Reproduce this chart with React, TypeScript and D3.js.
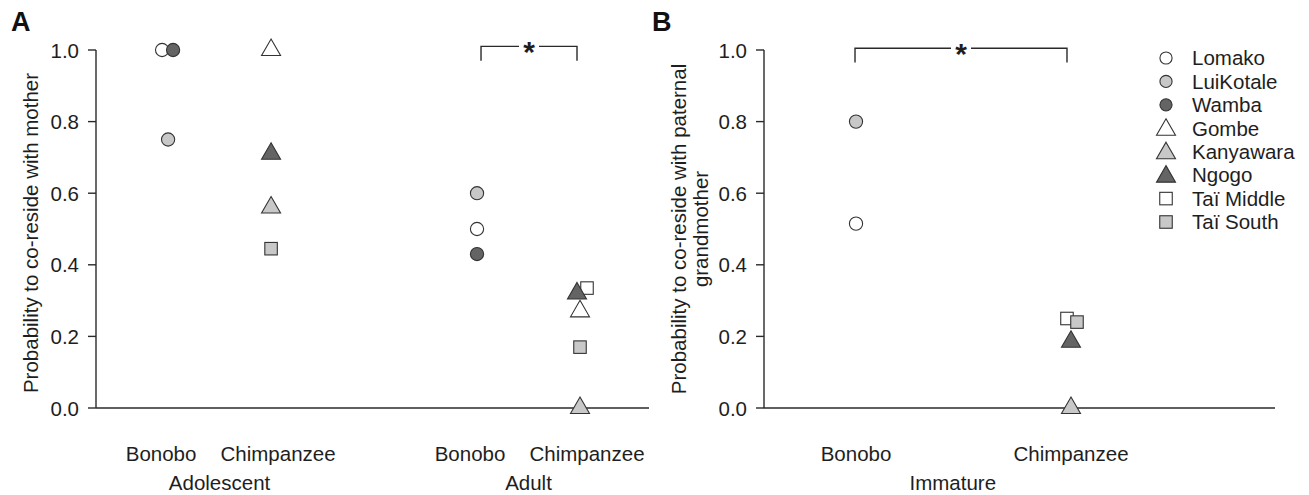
import React from "react";
import * as d3 from "d3";

// ---------- data ----------
const populations = ["Lomako", "LuiKotale", "Wamba", "Gombe", "Kanyawara", "Ngogo", "Taï Middle", "Taï South"];
const popShapes = ["circle", "circle", "circle", "triangle", "triangle", "triangle", "square", "square"];
const popFills = ["#ffffff", "#c8c8c8", "#646464", "#ffffff", "#c8c8c8", "#646464", "#ffffff", "#c8c8c8"];

const yTicks = [0, 0.2, 0.4, 0.6, 0.8, 1.0];

// Panel A: probability to co-reside with mother
const adolescentBonobo = [
  { pop: "Lomako", value: 1.0 },
  { pop: "LuiKotale", value: 0.75 },
  { pop: "Wamba", value: 1.0 },
];
const adolescentChimp = [
  { pop: "Gombe", value: 1.0 },
  { pop: "Kanyawara", value: 0.56 },
  { pop: "Ngogo", value: 0.71 },
  { pop: "Taï South", value: 0.445 },
];
const adultBonobo = [
  { pop: "Lomako", value: 0.5 },
  { pop: "LuiKotale", value: 0.6 },
  { pop: "Wamba", value: 0.43 },
];
const adultChimp = [
  { pop: "Taï Middle", value: 0.335 },
  { pop: "Taï South", value: 0.17 },
  { pop: "Gombe", value: 0.27 },
  { pop: "Kanyawara", value: 0.0 },
  { pop: "Ngogo", value: 0.32 },
];

// Panel B: probability to co-reside with paternal grandmother
const immatureBonobo = [
  { pop: "Lomako", value: 0.515 },
  { pop: "LuiKotale", value: 0.8 },
];
const immatureChimp = [
  { pop: "Kanyawara", value: 0.0 },
  { pop: "Ngogo", value: 0.185 },
  { pop: "Taï Middle", value: 0.25 },
  { pop: "Taï South", value: 0.24 },
];

const speciesLabels = ["Bonobo", "Chimpanzee"];
const ageLabelsA = ["Adolescent", "Adult"];
const ageLabelB = "Immature";

// small horizontal jitter (px) to separate overlapping markers
const jitter: Record<string, number> = {
  "adol-Lomako": -6,
  "adol-Wamba": 5,
  "adult-Taï Middle": 7,
  "adult-Ngogo": -3,
  "imm-Taï Middle": -4,
  "imm-Taï South": 6,
};

// ---------- styles ----------
const FONT = "'Liberation Sans', Arial, Helvetica, sans-serif";
const FS = 20.5;
const TXT = "#1e1e1e";
const AX = "#2a2a2a";
const MSTROKE = "#333333";

const Y0 = 408;
const Y1 = 50;

function Marker({ pop, x, y, scale = 1 }: { pop: string; x: number; y: number; scale?: number }) {
  const i = populations.indexOf(pop);
  const shape = popShapes[i];
  const fill = popFills[i];
  const common = { fill, stroke: MSTROKE, strokeWidth: 1.1 };
  if (shape === "circle") {
    return <circle cx={x} cy={y} r={6.6 * scale} {...common} />;
  }
  if (shape === "square") {
    const s = 12.5 * scale;
    return <rect x={x - s / 2} y={y - s / 2} width={s} height={s} {...common} />;
  }
  const w = 19 * scale;
  const h = 16.5 * scale;
  const pts = [
    [x, y - (2 * h) / 3],
    [x + w / 2, y + h / 3],
    [x - w / 2, y + h / 3],
  ];
  return <polygon points={pts.map((p) => p.join(",")).join(" ")} {...common} />;
}

function YAxis({ x, y }: { x: number; y: d3.ScaleLinear<number, number> }) {
  const fmt = d3.format(".1f");
  return (
    <g>
      <line x1={x} x2={x} y1={y(1)} y2={y(0)} stroke={AX} strokeWidth={1.4} />
      {yTicks.map((t) => (
        <g key={t}>
          <line x1={x - 8} x2={x} y1={y(t)} y2={y(t)} stroke={AX} strokeWidth={1.4} />
          <text x={x - 17} y={y(t) + 7.5} textAnchor="end" fontSize={FS} fill={TXT} fontFamily={FONT}>
            {fmt(t)}
          </text>
        </g>
      ))}
    </g>
  );
}

function Bracket({ x1, x2, yTop, yBot }: { x1: number; x2: number; yTop: number; yBot: number }) {
  const mid = (x1 + x2) / 2;
  const gap = 10;
  return (
    <g stroke={AX} strokeWidth={1.4} fill="none">
      <path d={`M${x1},${yBot}V${yTop}H${mid - gap}`} />
      <path d={`M${mid + gap},${yTop}H${x2}V${yBot}`} />
      <text
        x={mid}
        y={yTop + 16}
        textAnchor="middle"
        fontSize={30}
        fontWeight="bold"
        fill={TXT}
        stroke="none"
        fontFamily={FONT}
      >
        *
      </text>
    </g>
  );
}

export default function App() {
  const yA = d3.scaleLinear().domain([0, 1]).range([Y0, Y1]);
  const yB = d3.scaleLinear().domain([0, 1]).range([Y0, Y1]);
  const xA = d3.scaleLinear().domain([0.3, 5.67]).range([96, 649]);
  const xB = d3.scaleLinear().domain([0.572, 2.949]).range([764, 1275]);

  const groupsA = [
    { key: "adol", pos: 1, data: adolescentBonobo },
    { key: "adol", pos: 2, data: adolescentChimp },
    { key: "adult", pos: 4, data: adultBonobo },
    { key: "adult", pos: 5, data: adultChimp },
  ];
  const groupsB = [
    { key: "imm", pos: 1, data: immatureBonobo },
    { key: "imm", pos: 2, data: immatureChimp },
  ];

  const legendY = d3.scaleLinear().domain([0, populations.length - 1]).range([58, 222]);

  return (
    <svg
      width={1309}
      height={495}
      style={{ position: "absolute", left: 0, top: 0, background: "#fff" }}
      fontFamily={FONT}
    >
      <rect width={1309} height={495} fill="#fff" />

      {/* Panel letters */}
      <text x={11} y={31} fontSize={27} fontWeight="bold" fill="#111">A</text>
      <text x={652} y={31} fontSize={27} fontWeight="bold" fill="#111">B</text>

      {/* ---------- Panel A ---------- */}
      <YAxis x={96} y={yA} />
      <line x1={96} x2={649} y1={Y0} y2={Y0} stroke={AX} strokeWidth={1.4} />
      <text
        transform={`translate(38,233) rotate(-90)`}
        textAnchor="middle"
        fontSize={FS}
        fill={TXT}
      >
        Probability to co-reside with mother
      </text>

      {[1, 2, 4, 5].map((p, i) => (
        <text
          key={p}
          x={xA(p) + (i % 2 === 0 ? -7 : 7)}
          y={461}
          textAnchor="middle"
          fontSize={FS}
          fill={TXT}
        >
          {speciesLabels[i % 2]}
        </text>
      ))}
      {ageLabelsA.map((l, i) => (
        <text key={l} x={xA(1.5 + i * 3)} y={490} textAnchor="middle" fontSize={FS} fill={TXT}>
          {l}
        </text>
      ))}

      <Bracket x1={xA(4) + 4} x2={xA(5) - 3} yTop={yA(1.01)} yBot={yA(0.97)} />

      {groupsA.map((g, gi) =>
        g.data.map((d) => (
          <Marker
            key={gi + d.pop}
            pop={d.pop}
            x={xA(g.pos) + (jitter[`${g.key}-${d.pop}`] || 0)}
            y={yA(d.value)}
          />
        ))
      )}

      {/* ---------- Panel B ---------- */}
      <YAxis x={764} y={yB} />
      <line x1={764} x2={1275} y1={Y0} y2={Y0} stroke={AX} strokeWidth={1.4} />
      <text transform={`translate(686,229) rotate(-90)`} textAnchor="middle" fontSize={FS} fill={TXT}>
        Probability to co-reside with paternal
      </text>
      <text transform={`translate(708,229) rotate(-90)`} textAnchor="middle" fontSize={FS} fill={TXT}>
        grandmother
      </text>

      {[1, 2].map((p, i) => (
        <text key={p} x={xB(p)} y={461} textAnchor="middle" fontSize={FS} fill={TXT}>
          {speciesLabels[i]}
        </text>
      ))}
      <text x={xB(1.45)} y={490} textAnchor="middle" fontSize={FS} fill={TXT}>
        {ageLabelB}
      </text>

      <Bracket x1={xB(1) - 1} x2={xB(2) - 4} yTop={yB(1.005)} yBot={yB(0.965)} />

      {groupsB.map((g, gi) =>
        g.data.map((d) => (
          <Marker
            key={gi + d.pop}
            pop={d.pop}
            x={xB(g.pos) + (jitter[`${g.key}-${d.pop}`] || 0)}
            y={yB(d.value)}
          />
        ))
      )}

      {/* ---------- Legend ---------- */}
      {populations.map((p, i) => (
        <g key={p}>
          <Marker pop={p} x={1166} y={legendY(i) + (popShapes[i] === "triangle" ? 1.5 : 0)} scale={popShapes[i] === "circle" ? 0.92 : 1} />
          <text x={1192} y={legendY(i) + 7.3} fontSize={FS} fill={TXT}>
            {p}
          </text>
        </g>
      ))}
    </svg>
  );
}
